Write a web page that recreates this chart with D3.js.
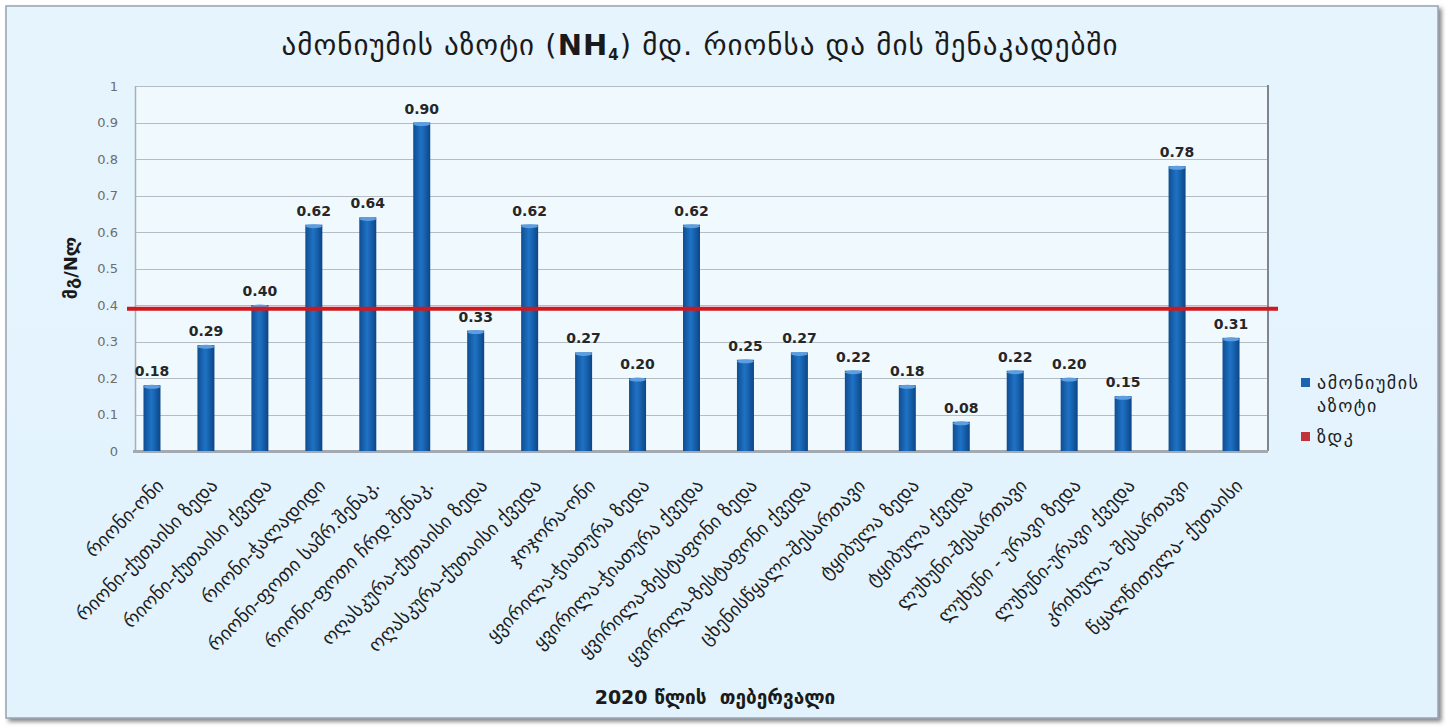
<!DOCTYPE html>
<html>
<head>
<meta charset="utf-8">
<script src="https://cdn.jsdelivr.net/npm/d3@7/dist/d3.min.js"></script>
<style>
  html, body { margin: 0; padding: 0; background: #ffffff; }
  svg { display: block; }
  text { font-family: "DejaVu Sans", "Noto Sans", sans-serif; }
</style>
</head>
<body>
<svg id="chart" width="1448" height="727"></svg>
<script>
// Monitoring points (February 2020)
const categories = [
  "რიონი-ონი",
  "რიონი-ქუთაისი ზედა",
  "რიონი-ქუთაისი ქვედა",
  "რიონი-ჭალადიდი",
  "რიონი-ფოთი სამრ.შენაკ.",
  "რიონი-ფოთი ჩრდ.შენაკ.",
  "ოღასკურა-ქუთაისი ზედა",
  "ოღასკურა-ქუთაისი ქვედა",
  "ჯოჯორა-ონი",
  "ყვირილა-ჭიათურა ზედა",
  "ყვირილა-ჭიათურა ქვედა",
  "ყვირილა-ზესტაფონი ზედა",
  "ყვირილა-ზესტაფონი ქვედა",
  "ცხენისწყალი-შესართავი",
  "ტყიბულა ზედა",
  "ტყიბულა ქვედა",
  "ლუხუნი-შესართავი",
  "ლუხუნი - ურავი ზედა",
  "ლუხუნი-ურავი ქვედა",
  "კრიხულა- შესართავი",
  "წყალწითელა- ქუთაისი"
];
// Ammonium nitrogen, mg N/l
const values = [0.18, 0.29, 0.40, 0.62, 0.64, 0.90, 0.33, 0.62, 0.27, 0.20, 0.62,
                0.25, 0.27, 0.22, 0.18, 0.08, 0.22, 0.20, 0.15, 0.78, 0.31];
// Maximum allowable concentration
const macValue = 0.39;
const yTicks = [0, 0.1, 0.2, 0.3, 0.4, 0.5, 0.6, 0.7, 0.8, 0.9, 1];
const yTickLabels = ["0", "0.1", "0.2", "0.3", "0.4", "0.5", "0.6", "0.7", "0.8", "0.9", "1"];
const seriesNames = ["ამონიუმის აზოტი", "ზდკ"];

const svg = d3.select("#chart");
const defs = svg.append("defs");

// frame shadow + background
defs.append("filter").attr("id", "shadow").attr("x", "-2%").attr("y", "-2%").attr("width", "104%").attr("height", "105%")
  .call(f => f.append("feDropShadow").attr("dx", 3).attr("dy", 3).attr("stdDeviation", 2).attr("flood-color", "#555").attr("flood-opacity", 0.7));

const barGrad = defs.append("linearGradient").attr("id", "barGrad").attr("x1", "0").attr("x2", "1").attr("y1", "0").attr("y2", "0");
barGrad.append("stop").attr("offset", "0%").attr("stop-color", "#0f4d92");
barGrad.append("stop").attr("offset", "45%").attr("stop-color", "#1f72c4");
barGrad.append("stop").attr("offset", "60%").attr("stop-color", "#1a68b6");
barGrad.append("stop").attr("offset", "100%").attr("stop-color", "#0c4586");

const bgGrad = defs.append("linearGradient").attr("id", "bgGrad").attr("x1", "0").attr("x2", "0").attr("y1", "0").attr("y2", "1");
bgGrad.append("stop").attr("offset", "0%").attr("stop-color", "#e6f4fd");
bgGrad.append("stop").attr("offset", "100%").attr("stop-color", "#e2f3fd");

svg.append("rect")
  .attr("x", 6).attr("y", 6).attr("width", 1432).attr("height", 712)
  .attr("fill", "url(#bgGrad)")
  .attr("stroke", "#9aa3ad").attr("stroke-width", 1.5)
  .attr("filter", "url(#shadow)");

// layout
const wall = { left: 135, right: 1268, top: 86, bottom: 451 };
const depth = 10; // 3D offset between back wall and bars

const x = d3.scaleBand()
  .domain(categories)
  .range([wall.left - depth, wall.right - depth])
  .padding(0);

const y = d3.scaleLinear()
  .domain([0, 1])
  .range([wall.bottom, wall.top]);

// back wall
svg.append("rect")
  .attr("x", wall.left).attr("y", wall.top)
  .attr("width", wall.right - wall.left).attr("height", wall.bottom - wall.top)
  .attr("fill", "#f0f9fe");

// gridlines
svg.append("g")
  .selectAll("line")
  .data(yTicks.slice(1))
  .join("line")
  .attr("x1", wall.left).attr("x2", wall.right)
  .attr("y1", d => Math.round(y(d)) + 0.5).attr("y2", d => Math.round(y(d)) + 0.5)
  .attr("stroke", "#b4bcc4").attr("stroke-width", 1);

// walls
svg.append("line").attr("x1", wall.left + 0.5).attr("x2", wall.left + 0.5)
  .attr("y1", wall.top).attr("y2", wall.bottom).attr("stroke", "#a7afb8").attr("stroke-width", 1.5);
svg.append("line").attr("x1", wall.right).attr("x2", wall.right)
  .attr("y1", wall.top - 1).attr("y2", wall.bottom).attr("stroke", "#7d858e").attr("stroke-width", 2);
// floor
svg.append("rect")
  .attr("x", wall.left - 2).attr("y", wall.bottom - 1)
  .attr("width", wall.right - wall.left + 2).attr("height", 3)
  .attr("fill", "#a3a9b0");

// y axis
const yAxis = d3.axisLeft(y)
  .tickValues(yTicks)
  .tickSize(0)
  .tickPadding(0)
  .tickFormat((d, i) => yTickLabels[i]);

const yAxisG = svg.append("g")
  .attr("transform", `translate(118,0)`)
  .call(yAxis);
yAxisG.select(".domain").remove();
yAxisG.selectAll("text")
  .attr("font-family", "'DejaVu Sans', sans-serif")
  .attr("font-size", 13)
  .attr("fill", "#6d6d6d");

// bars
const barW = Math.round(x.bandwidth() * 0.32);
const cx = d => x(d) + x.bandwidth() / 2;

const bars = svg.append("g");
bars.selectAll("rect")
  .data(categories)
  .join("rect")
  .attr("x", d => cx(d) - barW / 2)
  .attr("y", (d, i) => y(values[i]))
  .attr("width", barW)
  .attr("height", (d, i) => y(0) - y(values[i]))
  .attr("fill", "url(#barGrad)");

bars.selectAll("ellipse")
  .data(categories)
  .join("ellipse")
  .attr("cx", d => cx(d))
  .attr("cy", (d, i) => y(values[i]) + 1.5)
  .attr("rx", barW / 2)
  .attr("ry", 2)
  .attr("fill", "#5c9ee0");

// value labels
svg.append("g")
  .selectAll("text")
  .data(categories)
  .join("text")
  .attr("x", d => cx(d))
  .attr("y", (d, i) => y(values[i]) - 9)
  .attr("text-anchor", "middle")
  .attr("font-family", "'DejaVu Sans', sans-serif")
  .attr("font-weight", "bold")
  .attr("font-size", 14)
  .attr("fill", "#262626")
  .text((d, i) => d3.format(".2f")(values[i]));

// MAC line
svg.append("line")
  .attr("x1", 127).attr("x2", 1278)
  .attr("y1", y(macValue)).attr("y2", y(macValue))
  .attr("stroke", "#d0191f").attr("stroke-width", 4);

// category labels
svg.append("g")
  .selectAll("text")
  .data(categories)
  .join("text")
  .attr("transform", d => `translate(${cx(d) + 13},${wall.bottom + 36}) rotate(-45)`)
  .attr("text-anchor", "end")
  .attr("font-size", 19)
  .attr("fill", "#1e1e1e")
  .text(d => d);

// title
const title = svg.append("text")
  .attr("x", 700).attr("y", 55)
  .attr("text-anchor", "middle")
  .attr("font-size", 29)
  .attr("letter-spacing", 1)
  .attr("fill", "#1a1a1a");
title.append("tspan").text("ამონიუმის აზოტი (");
title.append("tspan").attr("font-weight", "bold").text("NH");
title.append("tspan").attr("font-weight", "bold").attr("font-size", 15).attr("dy", 5).text("4");
title.append("tspan").attr("dy", -5).text(") მდ. რიონსა და მის შენაკადებში");

// axis titles
svg.append("text")
  .attr("transform", "translate(77,268) rotate(-90)")
  .attr("text-anchor", "middle")
  .attr("font-size", 18)
  .attr("font-weight", "bold")
  .attr("fill", "#1a1a1a")
  .text("მგ/Nლ");

svg.append("text")
  .attr("x", 715).attr("y", 704)
  .attr("text-anchor", "middle")
  .attr("font-size", 19)
  .attr("font-weight", "bold")
  .attr("fill", "#1a1a1a")
  .attr("xml:space", "preserve")
  .text("2020 წლის  თებერვალი");

// legend
const legend = svg.append("g");
legend.append("rect").attr("x", 1301).attr("y", 378).attr("width", 9).attr("height", 9).attr("fill", "#1a63b0");
const l1 = legend.append("text").attr("x", 1317).attr("y", 389).attr("font-size", 18).attr("letter-spacing", 1.5).attr("fill", "#1e1e1e");
l1.append("tspan").attr("x", 1317).text(seriesNames[0].split(" ")[0]);
l1.append("tspan").attr("x", 1317).attr("dy", 23).text(seriesNames[0].split(" ")[1]);
legend.append("rect").attr("x", 1301).attr("y", 432).attr("width", 9).attr("height", 9).attr("fill", "#c2323a");
legend.append("text").attr("x", 1317).attr("y", 443).attr("font-size", 18).attr("letter-spacing", 1.5).attr("fill", "#1e1e1e").text(seriesNames[1]);
</script>
</body>
</html>
